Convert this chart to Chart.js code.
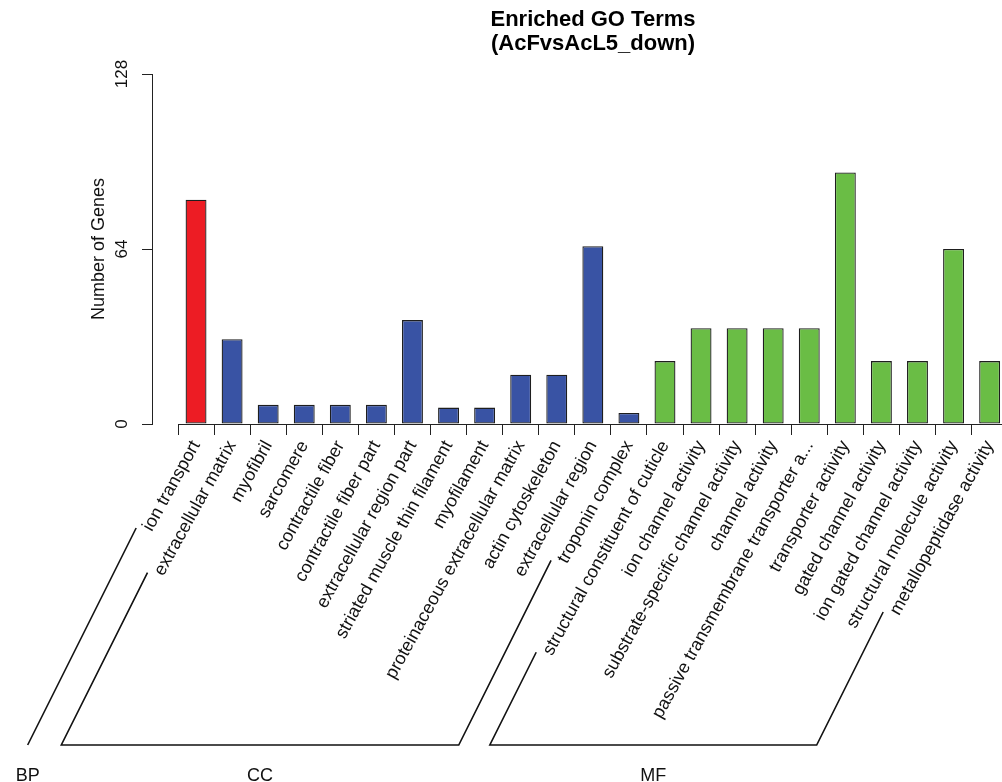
<!DOCTYPE html>
<html>
<head>
<meta charset="utf-8">
<script src="https://cdn.jsdelivr.net/npm/chart.js@4.4.1/dist/chart.umd.min.js"></script>
<style>
  html, body { margin: 0; padding: 0; background: #fff; overflow: hidden; width: 1002px; height: 782px; }
  canvas { display: block; }
</style>
</head>
<body>
<canvas id="goChart" width="1010" height="782"></canvas>
<script>
// GO terms, in plotting order
const goTerms = [
  "ion transport",
  "extracellular matrix",
  "myofibril",
  "sarcomere",
  "contractile fiber",
  "contractile fiber part",
  "extracellular region part",
  "striated muscle thin filament",
  "myofilament",
  "proteinaceous extracellular matrix",
  "actin cytoskeleton",
  "extracellular region",
  "troponin complex",
  "structural constituent of cuticle",
  "ion channel activity",
  "substrate-specific channel activity",
  "channel activity",
  "passive transmembrane transporter a...",
  "transporter activity",
  "gated channel activity",
  "ion gated channel activity",
  "structural molecule activity",
  "metallopeptidase activity"
];

// Number of genes per term
const geneCounts = [82, 31, 7, 7, 7, 7, 38, 6, 6, 18, 18, 65, 4, 23, 35, 35, 35, 35, 92, 23, 23, 64, 23];

// Ontology class of each term
const termClasses = [
  "BP",
  "CC", "CC", "CC", "CC", "CC", "CC", "CC", "CC", "CC", "CC", "CC", "CC",
  "MF", "MF", "MF", "MF", "MF", "MF", "MF", "MF", "MF", "MF"
];

const classOrder = ["BP", "CC", "MF"];
const classColors = { BP: "#ED1C24", CC: "#3953A4", MF: "#6ABD45" };

const yTickValues = [0, 64, 128];
const titleLines = ["Enriched GO Terms", "(AcFvsAcL5_down)"];
const yAxisTitle = "Number of Genes";

const FONT = "'Liberation Sans', Arial, Helvetica, sans-serif";
const INK = "#222";

// The bars start a little to the right of the value axis
const xAxisGap = {
  id: "xAxisGap",
  afterLayout(chart) {
    const xs = chart.scales.x;
    xs.left = chart.chartArea.left + 26;
    xs.width = xs.right - xs.left;
    xs.configure();
  }
};

// Two-line bold title
const twoLineTitle = {
  id: "twoLineTitle",
  afterDraw(chart) {
    const ctx = chart.ctx;
    ctx.save();
    ctx.fillStyle = "#000";
    ctx.font = "bold 22px " + FONT;
    ctx.textAlign = "center";
    ctx.textBaseline = "alphabetic";
    ctx.fillText(titleLines[0], 593, 26);
    ctx.fillText(titleLines[1], 593, 50);
    ctx.restore();
  }
};

// Slanted brackets grouping the terms by ontology class
const classBrackets = {
  id: "classBrackets",
  afterDraw(chart) {
    const ctx = chart.ctx;
    const xs = chart.scales.x;
    const items = xs.getLabelItems();
    const baseY = 745;
    const slope = 0.5;
    const starts = items.map(it => {
      ctx.font = it.font.string;
      const w = ctx.measureText(it.label).width + 4;
      const r = it.options.rotation;
      const [x, y] = it.options.translation;
      return [x - w * Math.cos(r), y - w * Math.sin(r)];
    });
    const foot = p => [p[0] - (baseY - p[1]) * slope, baseY];

    ctx.save();
    ctx.strokeStyle = "#111";
    ctx.lineWidth = 1.6;
    ctx.fillStyle = "#111";
    ctx.font = "18px " + FONT;
    ctx.textAlign = "center";
    ctx.textBaseline = "alphabetic";
    classOrder.forEach(cls => {
      const first = termClasses.indexOf(cls);
      const last = termClasses.lastIndexOf(cls);
      const p1 = starts[first];
      const b1 = foot(p1);
      ctx.beginPath();
      ctx.moveTo(p1[0], p1[1]);
      ctx.lineTo(b1[0], b1[1]);
      let cx = b1[0];
      if (last !== first) {
        const p2 = starts[last];
        const b2 = foot(p2);
        ctx.lineTo(b2[0], b2[1]);
        ctx.lineTo(p2[0], p2[1]);
        cx = (b1[0] + b2[0]) / 2;
      }
      ctx.stroke();
      ctx.fillText(cls, cx, 781);
    });
    ctx.restore();
  }
};

new Chart(document.getElementById("goChart"), {
  type: "bar",
  data: {
    labels: goTerms,
    datasets: [{
      data: geneCounts,
      backgroundColor: termClasses.map(c => classColors[c]),
      borderColor: "#1e1e1e",
      borderWidth: 1.3,
      borderSkipped: false,
      barPercentage: 0.58,
      categoryPercentage: 1
    }]
  },
  options: {
    responsive: false,
    animation: false,
    devicePixelRatio: 1,
    layout: { padding: { top: 74, right: 2, bottom: 0, left: 0 } },
    plugins: {
      legend: { display: false },
      title: { display: false },
      tooltip: { enabled: false }
    },
    scales: {
      x: {
        grid: { display: true, drawOnChartArea: false, drawTicks: true, tickLength: 11, color: INK, offset: true },
        border: { display: true, color: INK, width: 1 },
        ticks: {
          autoSkip: false,
          minRotation: 61,
          maxRotation: 61,
          padding: 2,
          color: "#111",
          font: { family: FONT, size: 18 }
        },
        afterFit(s) { s.height = 358; }
      },
      y: {
        min: 0,
        max: 128,
        afterBuildTicks(s) { s.ticks = yTickValues.map(v => ({ value: v })); },
        grid: { display: true, drawOnChartArea: false, drawTicks: true, tickLength: 10, color: INK },
        border: { display: true, color: INK, width: 1 },
        ticks: {
          minRotation: 90,
          maxRotation: 90,
          crossAlign: "center",
          padding: 6,
          color: "#111",
          font: { family: FONT, size: 17 }
        },
        title: {
          display: true,
          text: yAxisTitle,
          color: "#111",
          font: { family: FONT, size: 18 },
          padding: { top: 88.7, bottom: 0 }
        },
        afterFit(s) { s.width = 152; }
      }
    }
  },
  plugins: [xAxisGap, twoLineTitle, classBrackets]
});
</script>
</body>
</html>
